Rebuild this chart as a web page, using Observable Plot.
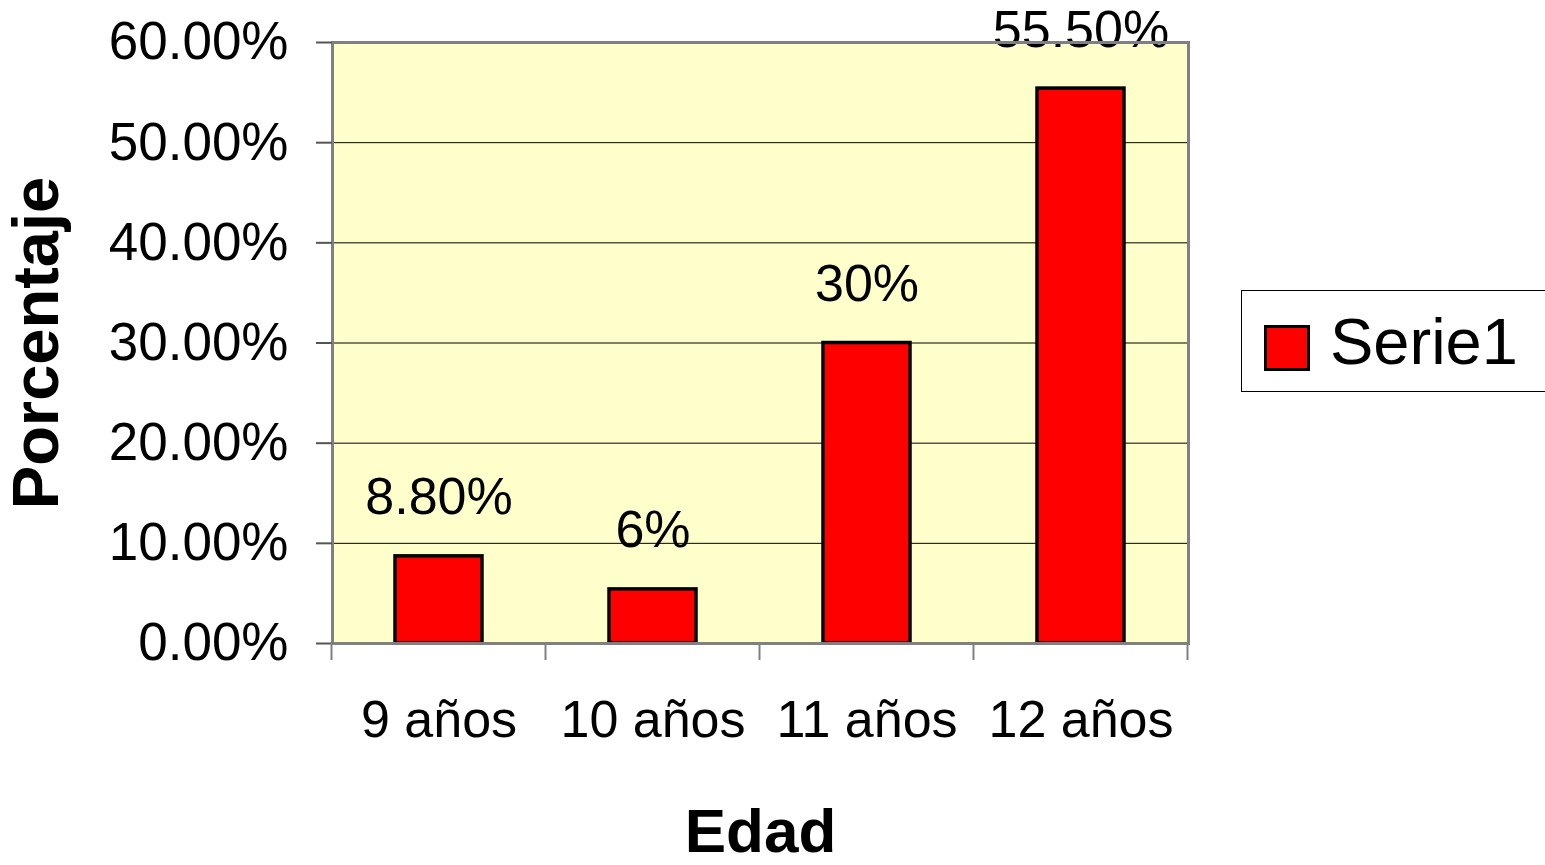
<!DOCTYPE html>
<html>
<head>
<meta charset="utf-8">
<script src="https://cdn.jsdelivr.net/npm/d3@7"></script>
<script src="https://cdn.jsdelivr.net/npm/@observablehq/plot@0.6"></script>
<style>
  html, body { margin: 0; padding: 0; background: white; }
  #wrap { position: relative; width: 1545px; height: 865px; overflow: hidden; font-family: "Liberation Sans", Arial, sans-serif; }
  #legend { position: absolute; left: 1241px; top: 290px; width: 320px; height: 102px; border: 1px solid #000; box-sizing: border-box; background: white; }
  #legend .sw { position: absolute; left: 22px; top: 34px; width: 46px; height: 46px; background: #ff0000; border: 3px solid #000; box-sizing: border-box; }
  #legend .lb { position: absolute; left: 88px; top: 16px; font-size: 65px; line-height: 70px; color: #000; }
</style>
</head>
<body>
<div id="wrap">
  <div id="chart"></div>
  <div id="legend"><div class="sw"></div><div class="lb"></div></div>
</div>
<script>
const categories = ["9 años", "10 años", "11 años", "12 años"];
const values = [8.7, 5.4, 30, 55.4];
const valueLabels = ["8.80%", "6%", "30%", "55.50%"];
const yTicks = [0, 10, 20, 30, 40, 50, 60];
const seriesName = "Serie1";
const xTitle = "Edad";
const yTitle = "Porcentaje";

const data = categories.map((c, i) => ({cat: c, value: values[i], label: valueLabels[i]}));
const font = "Liberation Sans, Arial, sans-serif";

function boundaryTicks(index, scales, vals, dimensions) {
  const xs = scales.x;
  const starts = categories.map(c => xs(c));
  const step = starts[1] - starts[0];
  const bw = typeof xs.bandwidth === "function" ? xs.bandwidth() : step * (1 - 0.593);
  const off = (step - bw) / 2;
  const bounds = starts.map(s => s - off);
  bounds.push(starts[starts.length - 1] + bw + off);
  const y0 = dimensions.height - dimensions.marginBottom;
  const g = d3.create("svg:g");
  g.selectAll("line").data(bounds).join("line")
    .attr("x1", d => d).attr("x2", d => d)
    .attr("y1", y0).attr("y2", y0 + 17)
    .attr("stroke", "#808080").attr("stroke-width", 2);
  return g.node();
}

const chart = Plot.plot({
  width: 1545,
  height: 865,
  marginLeft: 332,
  marginRight: 357,
  marginTop: 42,
  marginBottom: 222,
  style: {background: "white", fontFamily: font, color: "#000", overflow: "visible"},
  x: {domain: categories, paddingInner: 0.593, paddingOuter: 0.2965, label: null},
  y: {domain: [0, 60], ticks: yTicks, label: null},
  marks: [
    Plot.frame({fill: "#ffffcc", stroke: null}),
    Plot.gridY(yTicks, {stroke: "#000", strokeOpacity: 1, strokeWidth: 1}),
    Plot.barY(data, {x: "cat", y: "value", fill: "#ff0000", stroke: "#000", strokeWidth: 3.5}),
    Plot.text(data, {x: "cat", y: "value", text: "label", lineAnchor: "bottom", dy: -42, fontSize: 52, fill: "#000"}),
    Plot.frame({stroke: "#808080", strokeWidth: 3}),
    Plot.axisY({ticks: yTicks, tickFormat: d => d.toFixed(2) + "%", tickSize: 16, tickPadding: 28, fontSize: 53, stroke: "#555", strokeWidth: 2, label: null}),
    Plot.axisX({tickSize: 0, tickPadding: 57, fontSize: 52, label: null}),
    boundaryTicks,
    Plot.text([xTitle], {frameAnchor: "bottom", lineAnchor: "middle", dy: 189, fontSize: 62, fontWeight: "bold", fill: "#000"}),
    Plot.text([yTitle], {frameAnchor: "left", textAnchor: "middle", lineAnchor: "middle", rotate: -90, dx: -295, fontSize: 65, fontWeight: "bold", fill: "#000"})
  ]
});
document.getElementById("chart").appendChild(chart);
document.querySelector("#legend .lb").textContent = seriesName;
</script>
</body>
</html>
